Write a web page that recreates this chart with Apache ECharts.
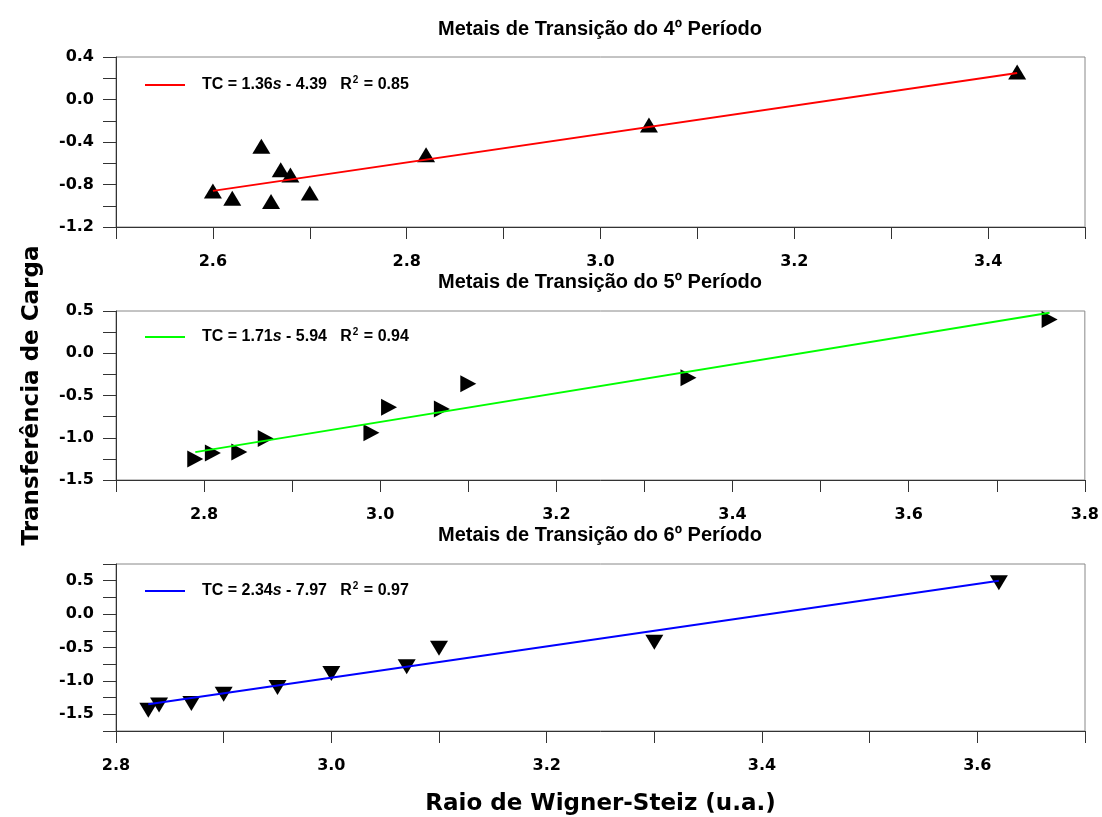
<!DOCTYPE html>
<html>
<head>
<meta charset="utf-8">
<script src="https://cdn.jsdelivr.net/npm/echarts@6/dist/echarts.min.js"></script>
<style>html,body{margin:0;padding:0;background:#fff;}#c{width:1102px;height:817px;}</style>
</head>
<body>
<div id="c"></div>
<script>
// ---- data ----
const titles = ['Metais de Transição do 4º Período', 'Metais de Transição do 5º Período', 'Metais de Transição do 6º Período'];

const p4X = [2.60, 2.62, 2.65, 2.66, 2.67, 2.68, 2.70, 2.82, 3.05, 3.43];
const p4Y = [-0.86, -0.93, -0.44, -0.96, -0.66, -0.71, -0.88, -0.52, -0.24, 0.26];
const p4FitX = [2.60, 3.43];
const p4FitY = [-0.86, 0.25];

const p5X = [2.79, 2.81, 2.84, 2.87, 2.99, 3.01, 3.07, 3.10, 3.35, 3.76];
const p5Y = [-1.25, -1.18, -1.17, -1.01, -0.94, -0.64, -0.66, -0.36, -0.29, 0.40];
const p5FitX = [2.79, 3.76];
const p5FitY = [-1.17, 0.48];

const p6X = [2.83, 2.84, 2.87, 2.90, 2.95, 3.00, 3.07, 3.10, 3.30, 3.62];
const p6Y = [-1.44, -1.36, -1.34, -1.20, -1.10, -0.89, -0.79, -0.51, -0.42, 0.47];
const p6FitX = [2.83, 3.62];
const p6FitY = [-1.35, 0.50];

const fitSlope = ['1.36', '1.71', '2.34'];
const fitIntercept = ['4.39', '5.94', '7.97'];
const fitR2 = ['0.85', '0.94', '0.97'];
const fitColors = ['#ff0000', '#00ff00', '#0000ff'];

const xMin = [2.5, 2.7, 2.8];
const xMax = [3.5, 3.8, 3.7];
const xInterval = 0.1;
const xLabelStep = 0.2;
const yMin = [-1.2, -1.5, -1.75];
const yMax = [0.4, 0.5, 0.75];
const yInterval = [0.2, 0.25, 0.25];
const yLabelStep = [0.4, 0.5, 0.5];

const xName = 'Raio de Wigner-Steiz (u.a.)';
const yName = 'Transferência de Carga';

// ---- layout ----
const gridTop = [57, 311, 564];
const gridH = [170, 169, 169];
const titleY = [28, 281, 534];
const legendY = [85, 337, 591];

const pts = [[p4X, p4Y], [p5X, p5Y], [p6X, p6Y]];
const fits = [[p4FitX, p4FitY], [p5FitX, p5FitY], [p6FitX, p6FitY]];
const markerRot = [0, -90, 180];
const markerSize = [[18, 15], [17, 16], [18, 15]];

const tickFont = {fontFamily: 'DejaVu Sans', fontWeight: 'bold', fontSize: 16, color: '#000'};
const nameFont = {fontFamily: 'DejaVu Sans', fontWeight: 'bold', fontSize: 23, color: '#000'};

function isMultiple(v, step) {
  const r = v / step;
  return Math.abs(r - Math.round(r)) < 1e-6;
}

const grid = [], xAxis = [], yAxis = [], series = [], legend = [], title = [];
for (let i = 0; i < 3; i++) {
  grid.push({left: 116, right: 17, top: gridTop[i], height: gridH[i], show: true, borderColor: '#888', borderWidth: 1, backgroundColor: 'transparent'});
  xAxis.push({
    type: 'value', gridIndex: i, min: xMin[i], max: xMax[i], interval: xInterval,
    axisLine: {show: true, onZero: false, lineStyle: {color: '#333', width: 1}},
    axisTick: {show: true, inside: false, length: 12, lineStyle: {color: '#333', width: 1}},
    splitLine: {show: false},
    axisLabel: {margin: 27, ...tickFont, showMinLabel: true, showMaxLabel: true,
      formatter: v => isMultiple(v, xLabelStep) ? v.toFixed(1) : ''},
    name: i === 2 ? xName : '', nameLocation: 'middle', nameGap: 62, nameTextStyle: nameFont
  });
  yAxis.push({
    type: 'value', gridIndex: i, min: yMin[i], max: yMax[i], interval: yInterval[i],
    axisLine: {show: true, onZero: false, lineStyle: {color: '#333', width: 1}},
    axisTick: {show: true, inside: false, length: 13, lineStyle: {color: '#333', width: 1}},
    splitLine: {show: false},
    axisLabel: {margin: 22, ...tickFont, showMinLabel: true, showMaxLabel: true,
      formatter: v => isMultiple(v, yLabelStep[i]) ? v.toFixed(1) : ''},
    name: i === 1 ? yName : '', nameLocation: 'middle', nameGap: 72, nameTextStyle: nameFont
  });
  series.push({
    type: 'scatter', xAxisIndex: i, yAxisIndex: i,
    data: pts[i][0].map((x, k) => [x, pts[i][1][k]]),
    symbol: 'triangle', symbolSize: markerSize[i], symbolRotate: markerRot[i],
    itemStyle: {color: '#000', opacity: 1}, z: 2, silent: true
  });
  series.push({
    type: 'line', name: 'fit' + i, xAxisIndex: i, yAxisIndex: i,
    data: fits[i][0].map((x, k) => [x, fits[i][1][k]]),
    showSymbol: false, symbol: 'none', lineStyle: {color: fitColors[i], width: 2},
    itemStyle: {color: fitColors[i]}, z: 3, silent: true, animation: false
  });
  legend.push({
    data: [{name: 'fit' + i, icon: 'rect'}], left: 145, top: legendY[i] - 10,
    orient: 'horizontal', itemWidth: 40, itemHeight: 2, padding: 0,
    selectedMode: false,
    formatter: () => '{g| }{b|TC = ' + fitSlope[i] + '}{it|s}{b| - ' + fitIntercept[i] + '   R}{sup|2}{b| = ' + fitR2[i] + '}',
    textStyle: {
      rich: {
        g: {width: 12},
        b: {fontFamily: 'Liberation Sans', fontWeight: 'bold', fontSize: 16, color: '#000', lineHeight: 20},
        it: {fontFamily: 'Liberation Sans', fontWeight: 'bold', fontStyle: 'italic', fontSize: 16, color: '#000', lineHeight: 20},
        sup: {fontFamily: 'Liberation Sans', fontWeight: 'bold', fontSize: 10, color: '#000', verticalAlign: 'top', lineHeight: 20, padding: [0, 1, 0, 1]}
      }
    }
  });
  title.push({
    text: titles[i], left: 600, top: titleY[i] - 9, textAlign: 'center', padding: 0,
    textStyle: {fontFamily: 'Liberation Sans', fontWeight: 'bold', fontSize: 20, color: '#000'}
  });
}

const chart = echarts.init(document.getElementById('c'), null, {renderer: 'canvas'});
chart.setOption({
  animation: false,
  backgroundColor: '#fff',
  title, legend, grid, xAxis, yAxis, series
});
</script>
</body>
</html>
